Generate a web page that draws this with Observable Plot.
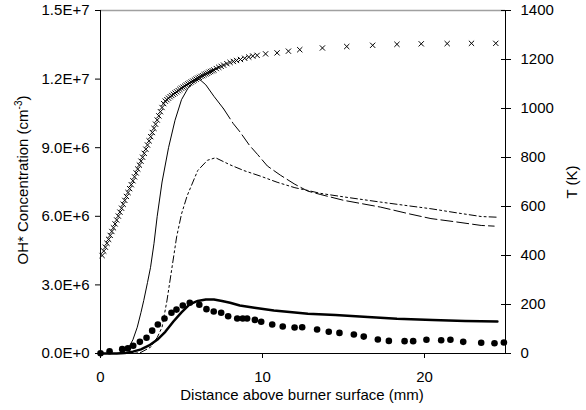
<!DOCTYPE html>
<html><head><meta charset="utf-8">
<script src="https://cdn.jsdelivr.net/npm/d3@7"></script>
<script src="https://cdn.jsdelivr.net/npm/@observablehq/plot@0.6"></script>
<style>body{margin:0;background:#fff} svg text{-webkit-font-smoothing:antialiased}</style>
</head><body><div id="chart"></div>
<script>
// Temperature (K), right axis
const tempX = [0.1,0.2,0.3,0.4,0.5,0.6,0.7,0.8,0.9,1.0,
  1.1,1.2,1.3,1.4,1.5,1.6,1.7,1.8,1.9,2.0,
  2.1,2.2,2.3,2.4,2.5,2.6,2.7,2.8,2.9,3.0,
  3.1,3.2,3.3,3.4,3.5,3.6,3.7,3.8,3.9,4.0,
  4.1,4.2,4.3,4.4,4.5,4.6,4.7,4.8,4.9,5.0,
  5.1,5.2,5.3,5.4,5.5,5.6,5.7,5.8,5.9,6.0,
  6.1,6.2,6.3,6.4,6.5,6.6,6.7,6.8,6.9,7.0,
  7.15,7.3,7.45,7.6,7.8,8.0,8.2,8.4,8.64,8.9,9.15,9.4,9.67,10.19,10.9,11.6,12.3,
  13.7,15.2,16.8,18.3,19.8,21.4,22.9,24.4];
const tempK = [400,418,434,450,466,482,498,513,529,545,
  561,577,593,609,625,641,657,673,689,705,
  721,737,753,769,785,801,817,834,851,868,
  885,902,919,936,953,970,987,1004,1020,1030,
  1036,1042,1048,1053,1058,1063,1068,1073,1078,1083,
  1087,1091,1096,1100,1104,1108,1112,1116,1120,1124,
  1127,1131,1134,1138,1141,1144,1148,1151,1154,1157,
  1163,1168,1172,1177,1183,1188,1192,1196,1200,1205,1210,1214,1217,1223,1227,1234,1240,
  1247,1253,1258,1262,1264,1265,1266,1266];

// Measured OH* (cm^-3), left axis (units of 1e6)
const measX = [0,0.56,1.34,1.69,2.02,2.43,2.84,3.19,3.54,3.95,
  4.38,4.69,5.08,5.51,6.1,6.54,6.99,7.45,7.88,8.44,
  8.78,9.05,9.53,9.92,10.6,11.25,11.98,12.45,13.37,14.09,
  14.75,15.64,16.25,17.12,17.8,18.77,19.3,20.12,21.03,21.6,
  22.39,23.5,24.32,24.9];
const measOH = [0.01,0.1,0.19,0.23,0.34,0.51,0.69,1.0,1.27,1.53,
  1.78,1.92,2.1,2.22,2.13,1.94,1.84,1.78,1.63,1.53,
  1.53,1.53,1.47,1.39,1.27,1.18,1.14,1.15,1.05,0.95,
  0.9,0.83,0.74,0.61,0.55,0.54,0.54,0.6,0.58,0.6,
  0.51,0.47,0.45,0.48];

// Thick solid model line (units of 1e6)
const modelX = [0,1.0,1.5,2.0,2.5,3.0,3.5,4.0,4.5,5.0,5.5,6.0,6.5,7.0,7.5,8.0,8.6,9.5,10.7,12.0,12.8,14.5,16.5,18.3,20.5,22.5,24.5];
const modelOH = [0,0,0.02,0.08,0.18,0.35,0.6,0.95,1.4,1.8,2.15,2.3,2.36,2.36,2.3,2.22,2.1,2.0,1.88,1.79,1.74,1.68,1.6,1.52,1.46,1.42,1.40];

// Thin line A (peak ~1.2e7), units of 1e6
const lineAX = [0,1.2,1.5,1.75,2.0,2.27,2.5,2.67,2.9,3.09,3.3,
  3.5,3.8,4.2,4.6,5.0,5.4,5.8,6.1,6.5,7.0,
  7.6,8.2,8.6,9.2,9.7,10.3,11.1,12.0,12.8,13.6,
  15.0,17.3,19.1,20.4,22.0,23.5,24.3];
const lineAOH = [0,0,0.1,0.28,0.6,1.15,1.8,2.32,3.1,3.77,4.8,
  6.0,7.5,9.0,10.2,11.1,11.6,11.9,12.0,11.75,11.25,
  10.7,10.05,9.7,9.1,8.7,8.2,7.8,7.4,7.1,6.95,
  6.7,6.4,6.1,5.9,5.75,5.6,5.57];

// Thin line B (peak ~8.5e6), units of 1e6
const lineBX = [0,2.0,2.5,3.1,3.5,3.8,4.1,4.4,4.7,5.0,
  5.35,6.0,6.6,7.1,8.0,8.85,9.9,10.9,12.0,12.8,
  13.6,15.0,17.3,19.1,20.4,22.0,23.5,24.5];
const lineBOH = [0,0,0.05,0.28,0.7,1.15,2.3,3.7,5.1,6.1,
  6.9,8.0,8.45,8.56,8.25,8.0,7.75,7.49,7.25,7.13,
  7.0,6.85,6.62,6.45,6.33,6.15,5.99,5.96];

const leftTicks = [0,3e6,6e6,9e6,1.2e7,1.5e7];
const leftTickLabels = ["0.0E+0","3.0E+6","6.0E+6","9.0E+6","1.2E+7","1.5E+7"];
const rightTicks = [0,200,400,600,800,1000,1200,1400];
const xTicks = [0,10,20];

const K = 1.5e7 / 1400;
const tempData = tempX.map((x,i)=>({x, y: tempK[i]*K}));
const measData = measX.map((x,i)=>({x, y: measOH[i]*1e6}));
const modelData = modelX.map((x,i)=>({x, y: modelOH[i]*1e6}));
const aData = lineAX.map((x,i)=>({x, y: lineAOH[i]*1e6}));
const bData = lineBX.map((x,i)=>({x, y: lineBOH[i]*1e6}));

const plot = Plot.plot({
  width: 586, height: 410,
  marginTop: 10, marginBottom: 57, marginLeft: 100, marginRight: 81,
  style: {fontFamily: "'Liberation Sans', Arial, sans-serif", fontSize: "15px", color: "#000", background: "#fff"},
  x: {domain: [0, 25]},
  y: {domain: [0, 1.5e7]},
  marks: [
    Plot.ruleY([1.5e7], {stroke: "#a0a0a0", strokeWidth: 1.5}),
    Plot.line(aData.filter(d => d.x <= 7.6), {x: "x", y: "y", stroke: "#000", strokeWidth: 1}),
    Plot.line(aData.filter(d => d.x >= 7.6), {x: "x", y: "y", stroke: "#000", strokeWidth: 1, strokeDasharray: "12,4"}),
    Plot.line(bData, {x: "x", y: "y", stroke: "#000", strokeWidth: 1, strokeDasharray: "7,3,2,3,2,3"}),
    Plot.line(modelData, {x: "x", y: "y", stroke: "#000", strokeWidth: 2.5}),
    Plot.dot(measData, {x: "x", y: "y", r: 3.3, fill: "#000", stroke: null}),
    Plot.dot(tempData, {x: "x", y: "y", symbol: "times", r: 2.5, stroke: "#000", strokeWidth: 1}),
    Plot.ruleX([0], {stroke: "#000"}),
    Plot.ruleX([25], {stroke: "#000"}),
    Plot.ruleY([0], {stroke: "#000"}),
    Plot.axisY(leftTicks, {anchor: "left", tickSize: 5, tickPadding: 6, label: null,
      tickFormat: d => leftTickLabels[leftTicks.indexOf(d)]}),
    Plot.axisY(rightTicks.map(t => t*K), {anchor: "right", tickSize: 10, dx: -5, tickPadding: 10, label: null,
      tickFormat: d => String(Math.round(d / K))}),
    Plot.axisX(xTicks, {anchor: "bottom", tickSize: 5, tickPadding: 13, label: null})
  ]
});

const svg = d3.select(plot);
svg.append("text").attr("x", 302).attr("y", 400).attr("text-anchor", "middle")
  .attr("fill", "black").text("Distance above burner surface (mm)");
const lt = svg.append("text").attr("transform", "translate(28,180) rotate(-90)")
  .attr("text-anchor", "middle").attr("fill", "black").style("fill", "black");
lt.append("tspan").text("OH* Concentration (cm");
lt.append("tspan").attr("dy", -6).attr("font-size", "10px").text("-3");
lt.append("tspan").attr("dy", 6).text(")");
svg.append("text").attr("transform", "translate(577,182) rotate(-90)")
  .attr("text-anchor", "middle").attr("fill", "black").text("T (K)");

document.getElementById("chart").appendChild(plot);
</script>
</body></html>
